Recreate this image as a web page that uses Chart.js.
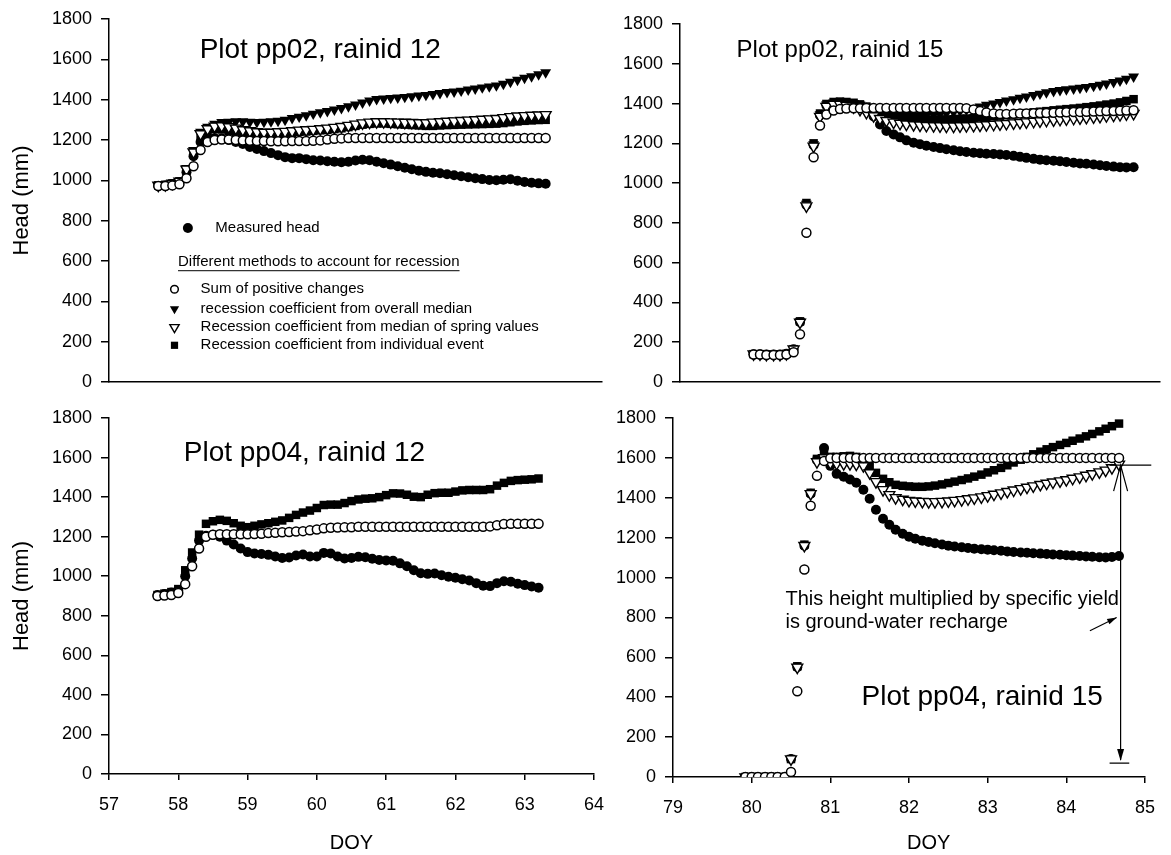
<!DOCTYPE html>
<html>
<head>
<meta charset="utf-8">
<title>Head (mm) vs DOY</title>
<script src="https://cdn.jsdelivr.net/npm/chart.js@4.4.0/dist/chart.umd.min.js"></script>
<style>
  html, body { margin: 0; padding: 0; background: #fff; }
  body { width: 1171px; height: 855px; position: relative; overflow: hidden; }
  canvas { position: absolute; }
</style>
</head>
<body>
<canvas id="tl" width="620" height="400" style="left:0;top:0"></canvas>
<canvas id="tr" width="571" height="400" style="left:600px;top:0"></canvas>
<canvas id="bl" width="620" height="455" style="left:0;top:400px"></canvas>
<canvas id="br" width="571" height="455" style="left:600px;top:400px"></canvas>
<script>
// series names (legend order: measured first, then the recession methods)
const seriesNames = [
  'Measured head',
  'Sum of positive changes',
  'recession coefficient from overall median',
  'Recession coefficient from median of spring values',
  'Recession coefficient from individual event'
];

// tick labels
const headTicks = [0, 200, 400, 600, 800, 1000, 1200, 1400, 1600, 1800];
const doyTicks12 = [57, 58, 59, 60, 61, 62, 63, 64];
const doyTicks15 = [79, 80, 81, 82, 83, 84, 85];

// sample days, rainid 12 (both plots)
const doy12 = [
  57.7, 57.8, 57.9,
  58.0, 58.1, 58.2, 58.3, 58.4, 58.5, 58.6, 58.7, 58.8, 58.9,
  59.0, 59.1, 59.2, 59.3, 59.4, 59.5, 59.6, 59.7, 59.8, 59.9,
  60.0, 60.1, 60.2, 60.3, 60.4, 60.5, 60.6, 60.7, 60.8, 60.9,
  61.0, 61.1, 61.2, 61.3, 61.4, 61.5, 61.6, 61.7, 61.8, 61.9,
  62.0, 62.1, 62.2, 62.3, 62.4, 62.5, 62.6, 62.7, 62.8, 62.9,
  63.0, 63.1, 63.2
];

// sample days, rainid 15 (both plots)
const doy15 = [
  79.92,
  80.00, 80.08, 80.17, 80.25, 80.33, 80.42, 80.50, 80.58, 80.67, 80.75, 80.83, 80.92,
  81.00, 81.08, 81.17, 81.25, 81.33, 81.42, 81.50, 81.58, 81.67, 81.75, 81.83, 81.92,
  82.00, 82.08, 82.17, 82.25, 82.33, 82.42, 82.50, 82.58, 82.67, 82.75, 82.83, 82.92,
  83.00, 83.08, 83.17, 83.25, 83.33, 83.42, 83.50, 83.58, 83.67, 83.75, 83.83, 83.92,
  84.00, 84.08, 84.17, 84.25, 84.33, 84.42, 84.50, 84.58, 84.67
];

// ---- pp02, rainid 12 ----
const pp02r12Measured = [
  972, 975, 980,
  990, 1040, 1120, 1190, 1205, 1210, 1208, 1200, 1190, 1180,
  1165, 1155, 1145, 1135, 1125, 1115, 1110, 1110, 1105, 1100,
  1098, 1095, 1092, 1090, 1092, 1098, 1102, 1100, 1092, 1085,
  1078, 1070, 1062, 1055, 1048, 1042, 1038, 1035, 1030, 1025,
  1020, 1015, 1010, 1006, 1002, 1000, 1003, 1005, 998, 992,
  988, 985, 983
];
const pp02r12Positive = [
  972, 972, 975,
  980, 1010, 1070, 1150, 1190, 1200, 1202, 1202, 1200, 1198,
  1196, 1195, 1195, 1194, 1194, 1194, 1195, 1195, 1195, 1196,
  1198, 1202, 1206, 1208, 1210, 1210, 1210, 1210, 1210, 1210,
  1210, 1210, 1210, 1210, 1210, 1210, 1210, 1210, 1210, 1210,
  1210, 1210, 1210, 1210, 1210, 1210, 1210, 1210, 1210, 1210,
  1210, 1210, 1210
];
const pp02r12Overall = [
  975, 978, 985,
  995, 1060, 1150, 1240, 1265, 1280, 1288, 1290, 1292, 1292,
  1290, 1288, 1290, 1292, 1295, 1300, 1308, 1315, 1322, 1330,
  1337, 1343, 1350, 1358, 1366, 1375, 1385, 1395, 1402, 1405,
  1408, 1410, 1413, 1416, 1420, 1423, 1427, 1432, 1437, 1440,
  1444, 1450, 1455, 1460, 1465, 1470, 1478, 1488, 1498, 1508,
  1515, 1525, 1535
];
const pp02r12Spring = [
  975, 978, 985,
  995, 1055, 1140, 1230, 1255, 1268, 1270, 1265, 1258, 1250,
  1245, 1240, 1238, 1238, 1240, 1242, 1245, 1248, 1250, 1252,
  1255, 1258, 1262, 1266, 1272, 1278, 1284, 1288, 1290, 1290,
  1289, 1288, 1287, 1286, 1285, 1285, 1288, 1290, 1292, 1294,
  1296, 1298, 1300, 1302, 1304, 1306, 1310, 1315, 1318, 1320,
  1322, 1323, 1325
];
const pp02r12Event = [
  975, 978, 985,
  995, 1050, 1135, 1220, 1245, 1255, 1252, 1245, 1238, 1232,
  1228, 1225, 1225, 1227, 1230, 1233, 1236, 1240, 1242, 1245,
  1248, 1250, 1254, 1258, 1264, 1270, 1276, 1280, 1282, 1282,
  1280, 1278, 1276, 1274, 1272, 1270, 1270, 1272, 1274, 1275,
  1276, 1277, 1278, 1279, 1280, 1281, 1284, 1288, 1292, 1295,
  1297, 1299, 1300
];

// ---- pp04, rainid 12 ----
const pp04r12Measured = [
  905, 910, 918,
  930, 1000, 1090, 1180, 1205, 1210, 1200, 1180, 1160, 1140,
  1122, 1115, 1112, 1108, 1100, 1092, 1095, 1105, 1110, 1100,
  1100, 1118, 1115, 1100, 1090, 1092, 1098, 1096, 1088, 1082,
  1080, 1078, 1065, 1050, 1030, 1015, 1012, 1014, 1005, 997,
  992, 985, 978, 965, 952, 950, 965, 975, 972, 962,
  955, 948, 942
];
const pp04r12Positive = [
  900, 902, 905,
  915, 960, 1050, 1140, 1200, 1210, 1212, 1212, 1212, 1212,
  1212, 1213, 1215, 1218, 1220, 1222, 1224, 1226, 1228, 1232,
  1236, 1242, 1245, 1246, 1247, 1248, 1250, 1250, 1250, 1250,
  1250, 1250, 1250, 1250, 1250, 1250, 1250, 1250, 1250, 1250,
  1250, 1250, 1250, 1250, 1250, 1252, 1258, 1264, 1265, 1265,
  1265, 1265, 1265
];
const pp04r12Event = [
  905, 912, 920,
  935, 1030, 1120, 1210, 1265, 1278, 1285, 1280, 1268, 1255,
  1248, 1255, 1262, 1268, 1275, 1282, 1295, 1310, 1322, 1332,
  1345, 1360, 1362, 1362, 1370, 1380, 1388, 1392, 1394, 1400,
  1410, 1419, 1418, 1412, 1402, 1400, 1412, 1420, 1422, 1422,
  1428, 1434, 1436, 1436, 1436, 1440, 1458, 1472, 1482, 1486,
  1488, 1490, 1494
];

// ---- pp02, rainid 15 ----
const pp02r15Measured = [
  140,
  140, 138, 138, 138, 142, 165, 300, 890, 1190, 1340, 1390, 1400,
  1402, 1400, 1395, 1385, 1365, 1335, 1295, 1262, 1245, 1230, 1215, 1203,
  1195, 1188, 1182, 1176, 1170, 1165, 1160, 1156, 1153, 1150, 1148, 1146,
  1144, 1141, 1137, 1132, 1127, 1122, 1118, 1115, 1113, 1110, 1106, 1102,
  1099, 1097, 1094, 1090, 1086, 1083, 1080, 1079, 1080
];
const pp02r15Positive = [
  138,
  138, 136, 136, 136, 138, 150, 240, 750, 1130, 1290, 1345, 1365,
  1372, 1375, 1376, 1377, 1378, 1378, 1378, 1378, 1378, 1378, 1378, 1378,
  1378, 1378, 1378, 1378, 1378, 1378, 1378, 1376, 1370, 1362, 1355, 1350,
  1348, 1348, 1349, 1350, 1350, 1351, 1352, 1353, 1354, 1355, 1356, 1357,
  1358, 1359, 1360, 1361, 1362, 1363, 1364, 1365, 1366
];
const pp02r15Overall = [
  140,
  140, 138, 138, 138, 142, 165, 305, 895, 1195, 1345, 1395, 1405,
  1408, 1406, 1402, 1395, 1385, 1372, 1360, 1352, 1347, 1344, 1342, 1341,
  1341, 1342, 1344, 1347, 1351, 1356, 1362, 1369, 1377, 1385, 1393, 1400,
  1407, 1414, 1421, 1428, 1435, 1442, 1449, 1456, 1462, 1467, 1471, 1475,
  1479, 1483, 1488, 1494, 1500, 1507, 1515, 1524, 1535
];
const pp02r15Spring = [
  140,
  140, 138, 138, 138, 142, 165, 300, 885, 1185, 1335, 1385, 1395,
  1395, 1390, 1382, 1370, 1355, 1338, 1324, 1314, 1306, 1300, 1296, 1293,
  1291, 1289, 1288, 1287, 1286, 1286, 1287, 1288, 1289, 1291, 1293, 1295,
  1297, 1299, 1302, 1304, 1307, 1310, 1312, 1315, 1317, 1320, 1322, 1325,
  1327, 1330, 1332, 1335, 1338, 1341, 1344, 1347, 1350
];
const pp02r15Event = [
  140,
  140, 138, 138, 138, 142, 165, 305, 900, 1200, 1350, 1398, 1408,
  1410, 1408, 1404, 1396, 1385, 1370, 1356, 1345, 1337, 1331, 1327, 1324,
  1322, 1320, 1319, 1319, 1320, 1321, 1323, 1325, 1327, 1330, 1333, 1336,
  1339, 1342, 1345, 1349, 1352, 1356, 1359, 1362, 1366, 1369, 1372, 1375,
  1378, 1382, 1386, 1390, 1395, 1400, 1406, 1413, 1422
];

// ---- pp04, rainid 15 ----
const pp04r15Measured = [
  0,
  0, 0, 0, 0, 0, 0, 90, 550, 1160, 1420, 1590, 1650,
  1560, 1520, 1505, 1492, 1475, 1440, 1395, 1340, 1295, 1265, 1240, 1220,
  1205, 1195, 1185, 1178, 1172, 1166, 1160, 1156, 1152, 1148, 1145, 1142,
  1140, 1137, 1134, 1131, 1128, 1126, 1124, 1122, 1120, 1118, 1116, 1114,
  1112, 1110, 1108, 1106, 1104, 1102, 1101, 1103, 1108
];
const pp04r15Positive = [
  0,
  0, 0, 0, 0, 0, 0, 25, 430, 1040, 1360, 1510, 1585,
  1598, 1600, 1600, 1600, 1600, 1600, 1600, 1600, 1600, 1600, 1600, 1600,
  1600, 1600, 1600, 1600, 1600, 1600, 1600, 1600, 1600, 1600, 1600, 1600,
  1600, 1600, 1600, 1600, 1600, 1600, 1600, 1600, 1600, 1600, 1600, 1600,
  1600, 1600, 1600, 1600, 1600, 1600, 1600, 1600, 1600
];
const pp04r15Spring = [
  0,
  0, 0, 0, 0, 0, 0, 90, 550, 1160, 1420, 1580, 1600,
  1575, 1572, 1570, 1570, 1568, 1560, 1525, 1480, 1440, 1415, 1400, 1392,
  1386, 1383, 1381, 1380, 1380, 1381, 1383, 1386, 1390, 1394, 1399, 1404,
  1410, 1417, 1424, 1431, 1438, 1445, 1452, 1459, 1466, 1472, 1478, 1484,
  1490, 1497, 1504, 1512, 1520, 1529, 1538, 1550, 1568
];
const pp04r15Event = [
  0,
  0, 0, 0, 0, 0, 0, 90, 555, 1165, 1425, 1595, 1620,
  1605, 1605, 1608, 1610, 1605, 1590, 1560, 1525, 1495, 1478, 1465, 1460,
  1457, 1455, 1455, 1457, 1461, 1467, 1474, 1481, 1489, 1497, 1506, 1516,
  1527, 1538, 1550, 1563, 1577, 1591, 1605, 1618, 1631, 1643, 1654, 1665,
  1675, 1686, 1697, 1708, 1720, 1733, 1746, 1759, 1772
];

const FONT = '"Liberation Sans", Arial, Helvetica, sans-serif';
Chart.defaults.font.family = FONT;
Chart.defaults.color = '#000';

// marker looks, one per method
const looks = {
  measured: {pointStyle: 'circle', pointRadius: 5, pointBackgroundColor: '#000', pointBorderColor: '#000', pointBorderWidth: 0},
  positive: {pointStyle: 'circle', pointRadius: 4.5, pointBackgroundColor: '#fff', pointBorderColor: '#000', pointBorderWidth: 1.5},
  overall: {pointStyle: 'triangle', pointRotation: 180, pointRadius: 6.3, pointBackgroundColor: '#000', pointBorderColor: '#000', pointBorderWidth: 0},
  spring: {pointStyle: 'triangle', pointRotation: 180, pointRadius: 6.3, pointBackgroundColor: '#fff', pointBorderColor: '#000', pointBorderWidth: 1.4},
  event: {pointStyle: 'rect', pointRadius: 6, pointBackgroundColor: '#000', pointBorderColor: '#000', pointBorderWidth: 0}
};

function pts(xs, ys) {
  return xs.map((x, i) => ({x: x, y: ys[i]}));
}

function series(name, look, xs, ys) {
  return Object.assign({label: name, data: pts(xs, ys), showLine: false}, look);
}

function marker(ctx, look, px, py, scale) {
  const k = scale || 1;
  ctx.save();
  ctx.fillStyle = look.pointBackgroundColor;
  ctx.strokeStyle = look.pointBorderColor;
  ctx.lineWidth = look.pointBorderWidth;
  Chart.helpers.drawPoint(ctx, {
    pointStyle: look.pointStyle,
    radius: look.pointRadius * k,
    rotation: look.pointRotation || 0,
    borderWidth: look.pointBorderWidth
  }, px, py);
  ctx.restore();
}

function label(chart, str, xv, yv, size, align) {
  const ctx = chart.ctx;
  ctx.save();
  ctx.fillStyle = '#000';
  ctx.font = size + 'px ' + FONT;
  ctx.textAlign = align || 'center';
  ctx.textBaseline = 'middle';
  ctx.fillText(str, chart.scales.x.getPixelForValue(xv), chart.scales.y.getPixelForValue(yv));
  ctx.restore();
}

function panel(id, cfg) {
  return new Chart(document.getElementById(id), {
    type: 'scatter',
    data: {datasets: cfg.datasets},
    options: {
      responsive: false,
      animation: false,
      devicePixelRatio: 1,
      events: [],
      layout: {padding: cfg.padding},
      plugins: {legend: {display: false}, tooltip: {enabled: false}},
      scales: {
        x: {
          type: 'linear',
          min: cfg.xTicks[0],
          max: cfg.xTicks[cfg.xTicks.length - 1],
          afterBuildTicks: s => { s.ticks = cfg.xTicks.map(v => ({value: v})); },
          afterFit: s => { s.height = cfg.xHeight; },
          border: {display: true, color: '#000', width: 1.5},
          grid: {display: cfg.xLabels, drawOnChartArea: false, drawTicks: true, tickLength: 6, color: '#000', lineWidth: 1.5},
          ticks: {display: cfg.xLabels, padding: 16, color: '#000', font: {size: 18, lineHeight: 1}, callback: v => String(v)},
          title: {display: cfg.xLabels && !cfg.ownDoy, text: 'DOY', padding: 0, color: '#000', font: {size: 20}}
        },
        y: {
          type: 'linear',
          min: 0,
          max: 1800,
          afterBuildTicks: s => { s.ticks = headTicks.map(v => ({value: v})); },
          afterFit: s => { s.width = cfg.yWidth; },
          border: {display: true, color: '#000', width: 1.5},
          grid: {drawOnChartArea: false, drawTicks: true, tickLength: 8, color: '#000', lineWidth: 1.5},
          ticks: {padding: 9, color: '#000', font: {size: 18, lineHeight: 1}, callback: v => String(v)},
          title: {display: !!cfg.yTitle, text: cfg.yTitle || '', padding: {top: 9, bottom: 0}, color: '#000', font: {size: 22}}
        }
      }
    },
    plugins: [{id: 'notes', afterDraw: cfg.draw}]
  });
}

// top left, with the legend
panel('tl', {
  padding: {top: 19, right: 18, bottom: 16, left: 0},
  yWidth: 109, xHeight: 0, xLabels: false, xTicks: doyTicks12, yTitle: 'Head (mm)',
  datasets: [
    series(seriesNames[1], looks.positive, doy12, pp02r12Positive),
    series(seriesNames[3], looks.spring, doy12, pp02r12Spring),
    series(seriesNames[2], looks.overall, doy12, pp02r12Overall),
    series(seriesNames[4], looks.event, doy12, pp02r12Event),
    series(seriesNames[0], looks.measured, doy12, pp02r12Measured)
  ],
  draw: chart => {
    const {ctx, scales: {x, y}} = chart;
    label(chart, 'Plot pp02, rainid 12', 60.0, 1645, 28);
    marker(ctx, looks.measured, x.getPixelForValue(58.12), y.getPixelForValue(764));
    label(chart, seriesNames[0], 58.51, 764, 15, 'left');
    // heading, underlined
    const head = 'Different methods to account for recession';
    label(chart, head, 57.98, 594, 15, 'left');
    ctx.save();
    ctx.font = '15px ' + FONT;
    const w = ctx.measureText(head).width;
    const hx = x.getPixelForValue(57.98), hy = y.getPixelForValue(594) + 8.5;
    ctx.strokeStyle = '#000';
    ctx.lineWidth = 1;
    ctx.beginPath();
    ctx.moveTo(hx, hy);
    ctx.lineTo(hx + w, hy);
    ctx.stroke();
    ctx.restore();
    const rows = [
      [seriesNames[1], looks.positive, 460],
      [seriesNames[2], looks.overall, 362],
      [seriesNames[3], looks.spring, 271],
      [seriesNames[4], looks.event, 182]
    ];
    rows.forEach(r => {
      marker(ctx, r[1], x.getPixelForValue(57.93), y.getPixelForValue(r[2]), 0.85);
      label(chart, r[0], 58.30, r[2], 15, 'left');
    });
  }
});

// top right
panel('tr', {
  padding: {top: 24, right: 11, bottom: 11, left: 0},
  yWidth: 80, xHeight: 0, xLabels: false, xTicks: doyTicks15,
  datasets: [
    series(seriesNames[1], looks.positive, doy15, pp02r15Positive),
    series(seriesNames[3], looks.spring, doy15, pp02r15Spring),
    series(seriesNames[2], looks.overall, doy15, pp02r15Overall),
    series(seriesNames[4], looks.event, doy15, pp02r15Event),
    series(seriesNames[0], looks.measured, doy15, pp02r15Measured)
  ],
  draw: chart => {
    label(chart, 'Plot pp02, rainid 15', 81.0, 1665, 24);
  }
});

// bottom left
panel('bl', {
  padding: {top: 10, right: 21, bottom: 0, left: 0},
  yWidth: 109, xHeight: 81, xLabels: true, xTicks: doyTicks12, yTitle: 'Head (mm)',
  datasets: [
    series(seriesNames[1], looks.positive, doy12, pp04r12Positive),
    series(seriesNames[4], looks.event, doy12, pp04r12Event),
    series(seriesNames[0], looks.measured, doy12, pp04r12Measured)
  ],
  draw: chart => {
    label(chart, 'Plot pp04, rainid 12', 59.82, 1620, 28);
  }
});

// bottom right, with the recharge annotation
panel('br', {
  padding: {top: 16, right: 16, bottom: 0, left: 0},
  yWidth: 73, xHeight: 78, xLabels: true, xTicks: doyTicks15, ownDoy: true,
  datasets: [
    series(seriesNames[1], looks.positive, doy15, pp04r15Positive),
    series(seriesNames[3], looks.spring, doy15, pp04r15Spring),
    series(seriesNames[4], looks.event, doy15, pp04r15Event),
    series(seriesNames[0], looks.measured, doy15, pp04r15Measured)
  ],
  draw: chart => {
    const {ctx, scales: {x, y}} = chart;
    label(chart, 'This height multiplied by specific yield', 80.43, 892, 20, 'left');
    label(chart, 'is ground-water recharge', 80.43, 775, 20, 'left');
    label(chart, 'Plot pp04, rainid 15', 82.93, 400, 28);

    // axis title, set a little right of the axis centre as in the original
    ctx.save();
    ctx.fillStyle = '#000';
    ctx.font = '20px ' + FONT;
    ctx.textAlign = 'center';
    ctx.textBaseline = 'middle';
    ctx.fillText('DOY', x.getPixelForValue(82.25), chart.height - 12);
    ctx.restore();

    const ax = x.getPixelForValue(84.69);
    const top = y.getPixelForValue(1564);
    const bar = y.getPixelForValue(70);
    ctx.save();
    ctx.strokeStyle = '#000';
    ctx.fillStyle = '#000';
    ctx.lineWidth = 1.2;
    ctx.beginPath();
    // recharge height line
    ctx.moveTo(ax, top);
    ctx.lineTo(ax, bar - 3);
    // open head at the top
    ctx.moveTo(ax - 7, top + 26);
    ctx.lineTo(ax, top);
    ctx.lineTo(ax + 7, top + 26);
    // level of the last value
    ctx.moveTo(x.getPixelForValue(84.55), top);
    ctx.lineTo(x.getPixelForValue(85.08), top);
    // base bar
    ctx.moveTo(x.getPixelForValue(84.55), bar);
    ctx.lineTo(x.getPixelForValue(84.8), bar);
    ctx.stroke();
    // filled head at the bottom
    ctx.beginPath();
    ctx.moveTo(ax, bar - 2);
    ctx.lineTo(ax - 3.5, bar - 14);
    ctx.lineTo(ax + 3.5, bar - 14);
    ctx.closePath();
    ctx.fill();
    // pointer from the text to the line
    const px0 = x.getPixelForValue(84.3), py0 = y.getPixelForValue(733);
    const px1 = x.getPixelForValue(84.64), py1 = y.getPixelForValue(800);
    ctx.beginPath();
    ctx.moveTo(px0, py0);
    ctx.lineTo(px1, py1);
    ctx.stroke();
    const ang = Math.atan2(py1 - py0, px1 - px0);
    ctx.beginPath();
    ctx.moveTo(px1, py1);
    ctx.lineTo(px1 - 10 * Math.cos(ang - 0.3), py1 - 10 * Math.sin(ang - 0.3));
    ctx.lineTo(px1 - 10 * Math.cos(ang + 0.3), py1 - 10 * Math.sin(ang + 0.3));
    ctx.closePath();
    ctx.fill();
    ctx.restore();
  }
});
</script>
</body>
</html>
